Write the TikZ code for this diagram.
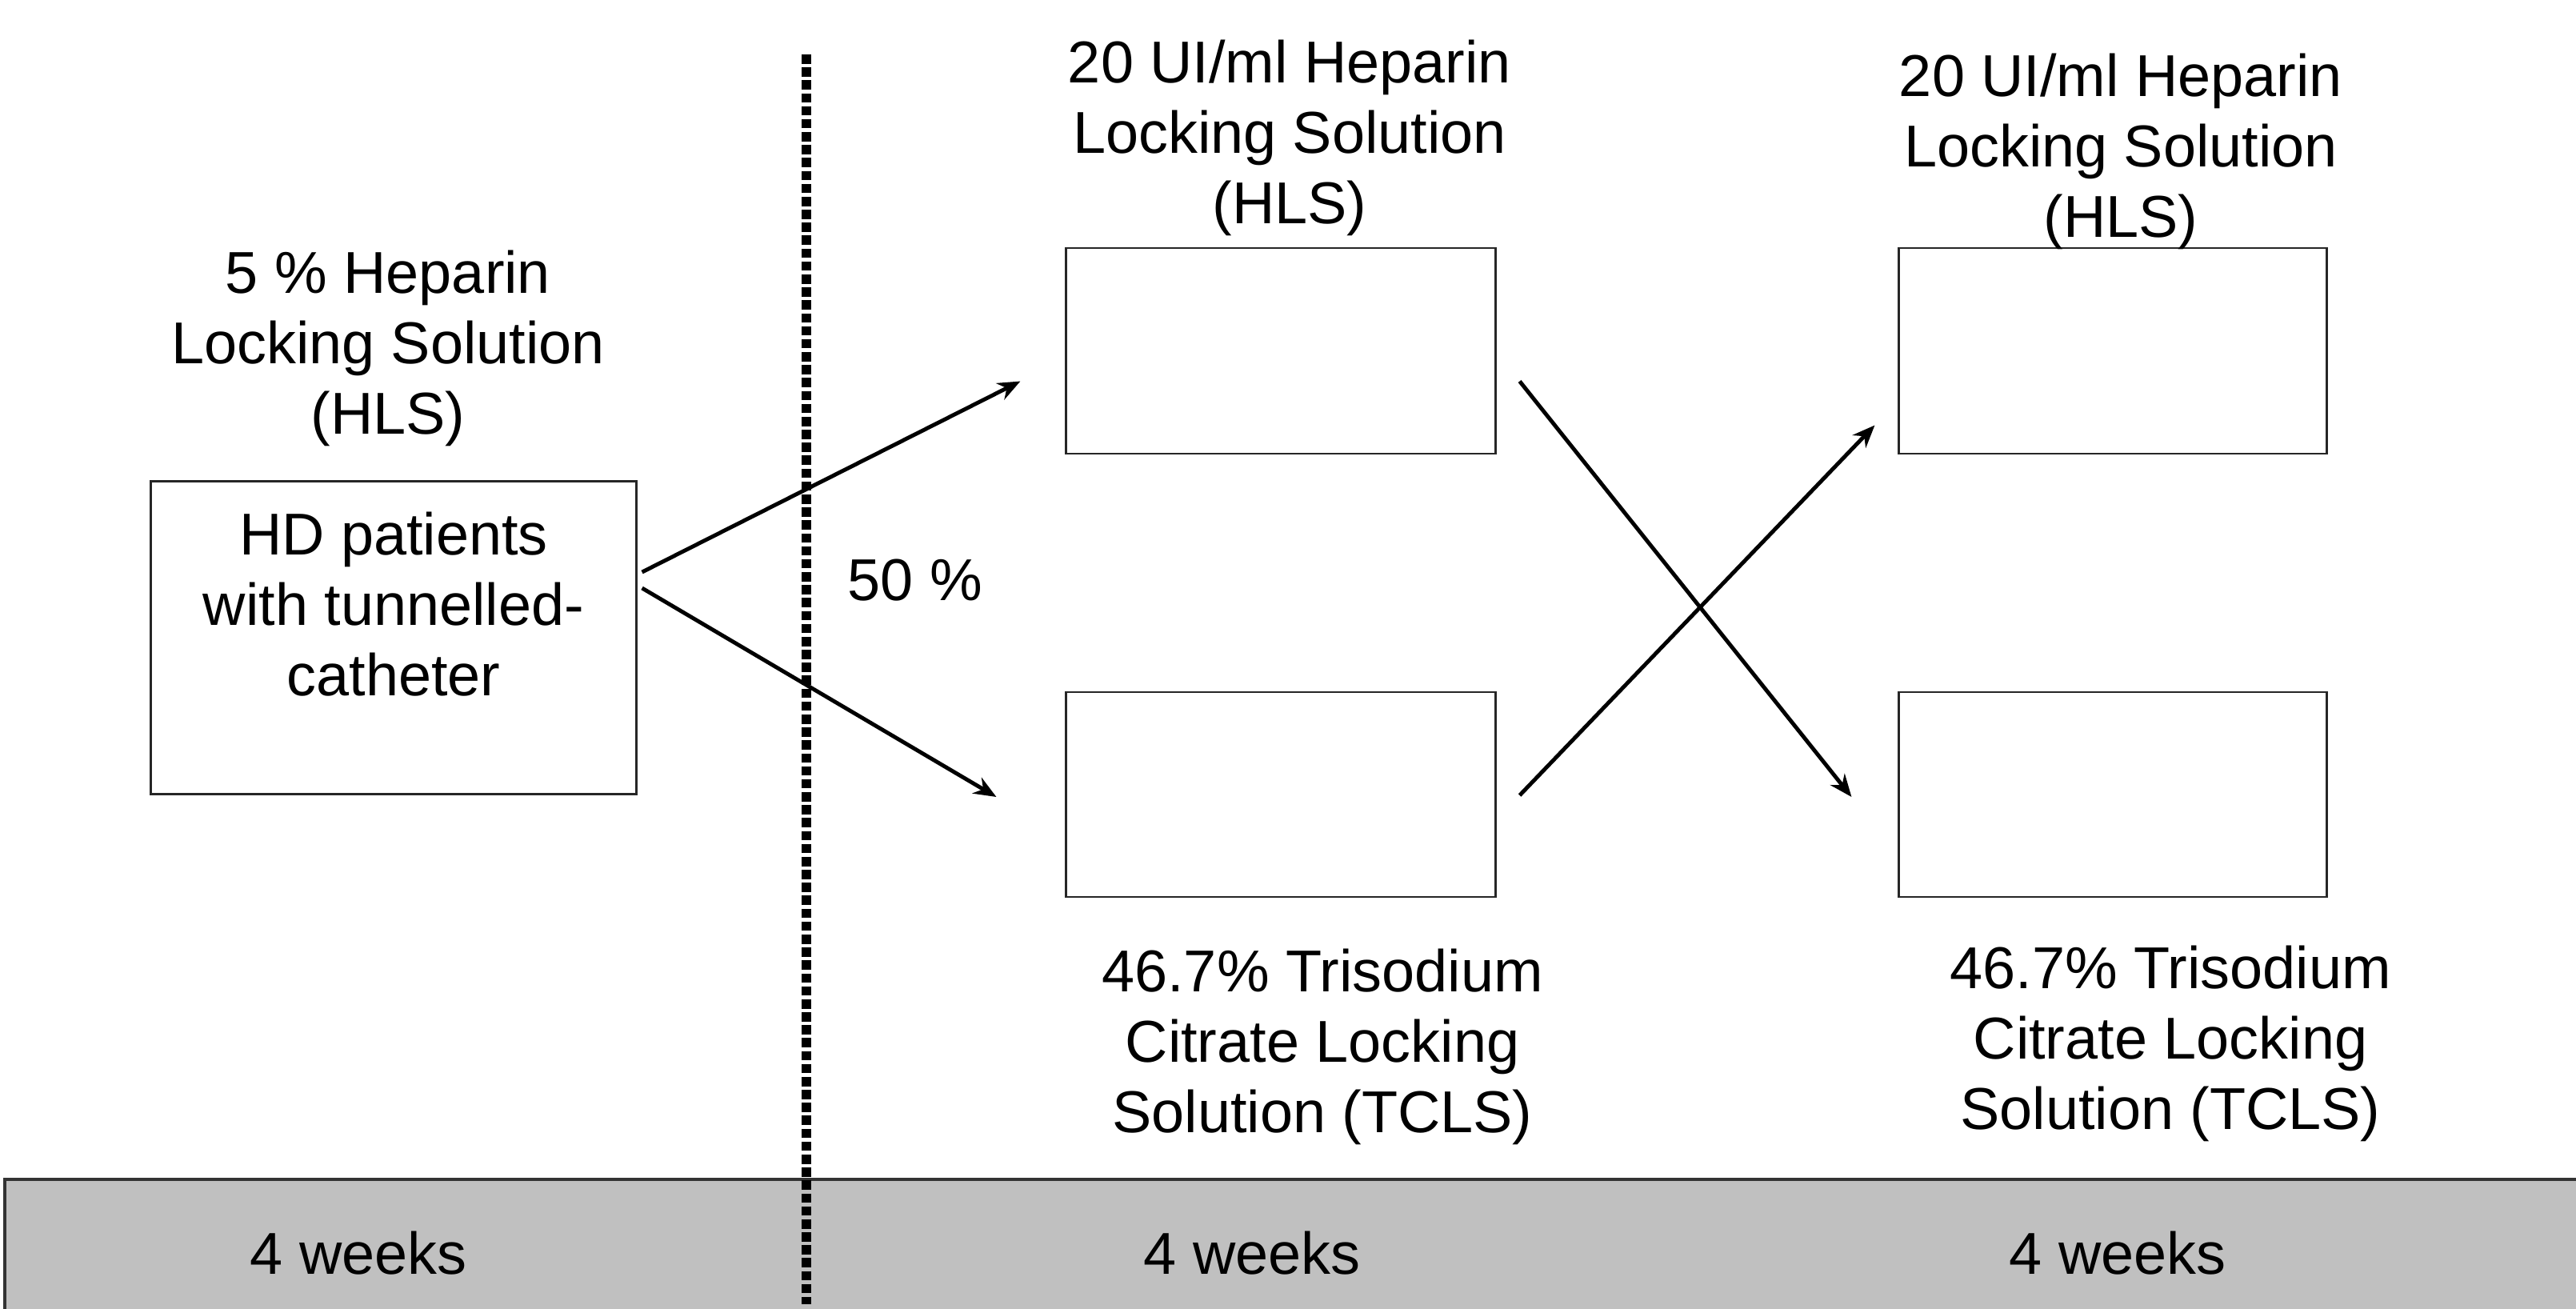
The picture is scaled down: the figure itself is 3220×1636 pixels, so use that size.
\documentclass[tikz,border=0pt]{standalone}
\usepackage{fontspec}
\setmainfont{Liberation Sans}
\usetikzlibrary{arrows.meta,calc}
\definecolor{bandgray}{RGB}{192,192,192}
\begin{document}
\begin{tikzpicture}[x=0.01cm,y=-0.01cm,
  lbl/.style={align=center,inner sep=0pt,font=\fontsize{21}{25}\selectfont},
  box/.style={draw=black!85,line width=0.8pt,inner sep=0pt},
  arr/.style={line width=1.4pt,-{Stealth[length=8pt,width=6.5pt]}}]
\useasboundingbox (0,0) rectangle (3220,1636);
% bottom band
\path[fill=bandgray,draw=black!80,line width=1pt] (6,1474) coordinate (bandtl) rectangle (3240,1660);
\node[lbl] (w1) at (448,1566) {4 weeks};
\node[lbl] (w2) at (1565,1566) {4 weeks};
\node[lbl] (w3) at (2647,1566) {4 weeks};
% dotted separator
\coordinate (dtop) at (1008,68);
\coordinate (dbot) at (1008,1630);
\draw[line width=3.3pt,dash pattern=on 3.3pt off 1.3pt] (dtop) -- (dbot);
% boxes
\node[box,minimum width=6.06cm,minimum height=3.90cm] (hd) at (492,797) {};
\node[lbl] (hdt) at (492,755) {HD patients\\with tunnelled-\\catheter};
\node[box,minimum width=5.36cm,minimum height=2.57cm] (m1) at (1601,438.5) {};
\node[box,minimum width=5.36cm,minimum height=2.56cm] (m2) at (1601,993) {};
\node[box,minimum width=5.34cm,minimum height=2.57cm] (r1) at (2641,438.5) {};
\node[box,minimum width=5.34cm,minimum height=2.56cm] (r2) at (2641,993) {};
% labels
\node[lbl] (l0) at (485,435) {5 \% Heparin\\Locking Solution\\(HLS)};
\node[lbl] (l1) at (1612,172) {20 UI/ml Heparin\\Locking Solution\\(HLS)};
\node[lbl] (l2) at (2651,189) {20 UI/ml Heparin\\Locking Solution\\(HLS)};
\node[lbl] (l3) at (1653,1308) {46.7\% Trisodium\\Citrate Locking\\Solution (TCLS)};
\node[lbl] (l4) at (2713,1304) {46.7\% Trisodium\\Citrate Locking\\Solution (TCLS)};
\node[lbl] (pc) at (1144,725) {50 \%};
% arrows
\coordinate (a1s) at ($(hd.east)+(6,-82)$);
\coordinate (a1e) at ($(m1.west)+(-56,38)$);
\coordinate (a2s) at ($(hd.east)+(6,-62)$);
\coordinate (a2e) at ($(m2.west)+(-86,3)$);
\draw[arr] (a1s) -- (a1e);
\draw[arr] (a2s) -- (a2e);
\coordinate (c1s) at ($(m1.east)+(29,38)$);
\coordinate (c1e) at ($(r2.west)+(-58,3)$);
\coordinate (c2s) at ($(m2.east)+(29,1)$);
\coordinate (c2e) at ($(r1.west)+(-29,93)$);
\draw[arr] (c1s) -- (c1e);
\draw[arr] (c2s) -- (c2e);
\end{tikzpicture}
\end{document}
